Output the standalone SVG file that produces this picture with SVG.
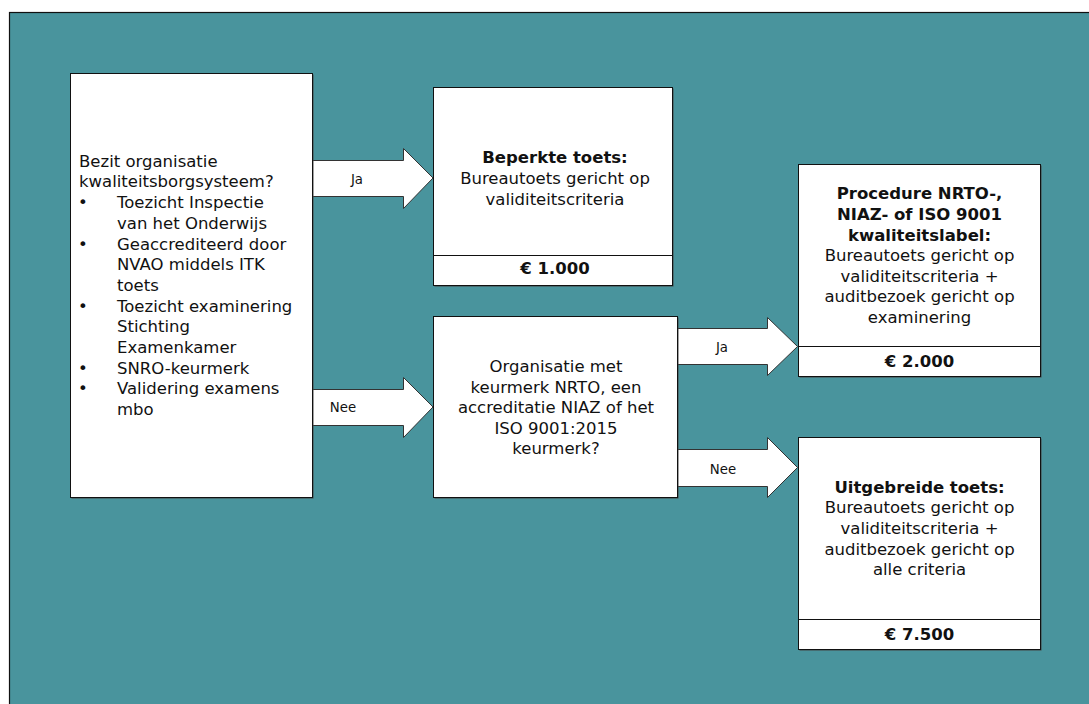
<svg xmlns="http://www.w3.org/2000/svg" width="1089" height="704" viewBox="0 0 1089 704">
<style>
.bg{fill:#49949D;stroke:#111;stroke-width:1.2}
.box{fill:#fff;stroke:#111;stroke-width:1}
.sh{fill:#444}
.arr{fill:#fff;stroke:#333;stroke-width:1}
.div{stroke:#111;stroke-width:1.2}
text{font-family:"DejaVu Sans",Verdana,sans-serif;font-size:16.5px;fill:#111}
.c{text-anchor:middle}
.b{font-weight:bold}
.lbl{font-size:13.3px;text-anchor:middle}
</style>
<rect class="bg" x="9.5" y="12.5" width="1090" height="700"/>
<g id="connectors">
<polygon class="arr" points="312.5,160.5 403.5,160.5 403.5,148.5 433,178 403.5,208.5 403.5,196.5 312.5,196.5"/>
<text class="lbl" x="357" y="184">Ja</text>
<polygon class="arr" points="312.5,389.5 403.5,389.5 403.5,377.5 433,407 403.5,437.5 403.5,425.5 312.5,425.5"/>
<text class="lbl" x="343" y="412">Nee</text>
<polygon class="arr" points="677.5,328.5 767.5,328.5 767.5,317.5 797.5,346.5 767.5,375.5 767.5,364.5 677.5,364.5"/>
<text class="lbl" x="722" y="352">Ja</text>
<polygon class="arr" points="677.5,449.5 767.5,449.5 767.5,437.5 797.5,467.5 767.5,497.5 767.5,486.5 677.5,486.5"/>
<text class="lbl" x="723" y="474">Nee</text>
</g>
<g id="start">
<rect class="sh" x="71.5" y="74.5" width="242" height="424"/>
<rect class="box" x="70.5" y="73.5" width="242" height="424"/>
<text x="79" y="166.7">Bezit organisatie</text>
<text x="79" y="187.4">kwaliteitsborgsysteem?</text>
<text x="78" y="208.1">•</text><text x="117" y="208.1">Toezicht Inspectie</text>
<text x="117" y="228.8">van het Onderwijs</text>
<text x="78" y="249.5">•</text><text x="117" y="249.5">Geaccrediteerd door</text>
<text x="117" y="270.2">NVAO middels ITK</text>
<text x="117" y="290.9">toets</text>
<text x="78" y="311.6">•</text><text x="117" y="311.6">Toezicht examinering</text>
<text x="117" y="332.3">Stichting</text>
<text x="117" y="353">Examenkamer</text>
<text x="78" y="373.7">•</text><text x="117" y="373.7">SNRO-keurmerk</text>
<text x="78" y="394.4">•</text><text x="117" y="394.4">Validering examens</text>
<text x="117" y="415.1">mbo</text>
</g>
<g id="beperkte">
<rect class="sh" x="434.5" y="88.5" width="239" height="198"/>
<rect class="box" x="433.5" y="87.5" width="239" height="198"/>
<line class="div" x1="433.5" y1="255.5" x2="672.5" y2="255.5"/>
<text class="c b" x="555" y="163.3">Beperkte toets:</text>
<text class="c" x="555" y="184">Bureautoets gericht op</text>
<text class="c" x="555" y="204.7">validiteitscriteria</text>
<text class="c b" x="555" y="274.3">€ 1.000</text>
</g>
<g id="vraag2">
<rect class="sh" x="434.5" y="317.5" width="244" height="181"/>
<rect class="box" x="433.5" y="316.5" width="244" height="181"/>
<text class="c" x="556" y="372.3">Organisatie met</text>
<text class="c" x="556" y="392.8">keurmerk NRTO, een</text>
<text class="c" x="556" y="413.3">accreditatie NIAZ of het</text>
<text class="c" x="556" y="433.8">ISO 9001:2015</text>
<text class="c" x="556" y="454.3">keurmerk?</text>
</g>
<g id="procedure">
<rect class="sh" x="799.5" y="165.5" width="242" height="212"/>
<rect class="box" x="798.5" y="164.5" width="242" height="212"/>
<line class="div" x1="798.5" y1="346.5" x2="1040.5" y2="346.5"/>
<text class="c b" x="919.5" y="199.3">Procedure NRTO-,</text>
<text class="c b" x="919.5" y="220">NIAZ- of ISO 9001</text>
<text class="c b" x="919.5" y="240.6">kwaliteitslabel:</text>
<text class="c" x="919.5" y="261.2">Bureautoets gericht op</text>
<text class="c" x="919.5" y="281.8">validiteitscriteria +</text>
<text class="c" x="919.5" y="302.4">auditbezoek gericht op</text>
<text class="c" x="919.5" y="323">examinering</text>
<text class="c b" x="919.5" y="366.7">€ 2.000</text>
</g>
<g id="uitgebreide">
<rect class="sh" x="799.5" y="438.5" width="242" height="212"/>
<rect class="box" x="798.5" y="437.5" width="242" height="212"/>
<line class="div" x1="798.5" y1="619.5" x2="1040.5" y2="619.5"/>
<text class="c b" x="919.5" y="492.7">Uitgebreide toets:</text>
<text class="c" x="919.5" y="513.3">Bureautoets gericht op</text>
<text class="c" x="919.5" y="533.9">validiteitscriteria +</text>
<text class="c" x="919.5" y="554.5">auditbezoek gericht op</text>
<text class="c" x="919.5" y="575.1">alle criteria</text>
<text class="c b" x="919.5" y="640">€ 7.500</text>
</g>
</svg>
